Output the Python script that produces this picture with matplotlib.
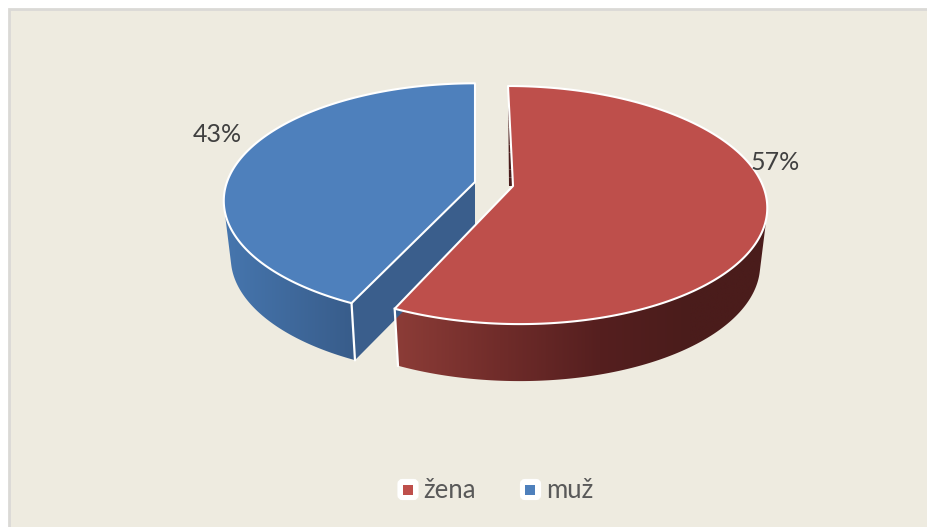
import numpy as np
import matplotlib
matplotlib.use("Agg")
import matplotlib.pyplot as plt
from matplotlib.patches import Polygon, Rectangle, FancyBboxPatch
from matplotlib.colors import to_rgb, LinearSegmentedColormap

# --- data ---
categories = ["žena", "muž"]
values = [57, 43]
labels = ["57%", "43%"]

# --- style / geometry ---
plt.rcParams["font.family"] = ["Lato", "DejaVu Sans"]
BG = "#EEEBE0"
TOP = {"žena": "#BE4F4B", "muž": "#4E80BC"}
CUT = {"žena": "#4A1C1B", "muž": "#3A5E8C"}
XSTOPS = {"žena": [396, 500, 600, 690, 770], "muž": [225, 355]}
CSTOPS = {"žena": ["#8C3C37", "#702C2A", "#551F1F", "#4A1C1B", "#4A1C1B"],
          "muž": ["#4676AE", "#385C8A"]}
APEX = {"žena": (513.0, 186.0), "muž": (475.0, 182.0)}
BX = {"žena": 250.0, "muž": 248.0}
AYS = {"žena": 116.0, "muž": 114.5}
SHEAR = {"žena": -5.8, "muž": 0.0}
K = 0.16
DEPTH, TAPER = 57.0, 0.972


def project(name, theta, bottom=False):
    x, y = np.sin(theta), np.cos(theta)
    w = 1.0 / (1.0 + K * y)
    ax0, ay0 = APEX[name]
    sx = (BX[name] * x + SHEAR[name] * y) * w
    sy = -AYS[name] * y * w
    if bottom:
        return ax0 + sx * TAPER, ay0 + sy + DEPTH
    return ax0 + sx, ay0 + sy


def hull(points):
    pts = sorted(set(map(tuple, points)))
    def half(seq):
        out = []
        for p in seq:
            while len(out) > 1 and ((out[-1][0] - out[-2][0]) * (p[1] - out[-2][1])
                                    - (out[-1][1] - out[-2][1]) * (p[0] - out[-2][0])) <= 0:
                out.pop()
            out.append(p)
        return out[:-1]
    return half(pts) + half(pts[::-1])


fig = plt.figure(figsize=(9.27, 5.27), dpi=100, facecolor="white")
ax = fig.add_axes([0, 0, 1, 1])
ax.set_xlim(0, 927)
ax.set_ylim(527, 0)
ax.axis("off")

ax.add_patch(Rectangle((9, 9), 930, 530, fc=BG, ec="#DAD9D6", lw=2, zorder=0))

fractions = np.array(values, float) / sum(values)
edges = np.concatenate([[0], np.cumsum(fractions)]) * 2 * np.pi
spans = {n: (edges[i], edges[i + 1]) for i, n in enumerate(categories)}

for name in ["muž", "žena"]:
    t0, t1 = spans[name]
    thetas = np.linspace(t0, t1, 400)
    tx, ty = project(name, thetas)
    bx, by = project(name, thetas, bottom=True)
    apex = np.array(APEX[name])

    # outer wall: gradient image clipped to the outline of the visible wall
    vis = np.cos(thetas) < 0.2
    outline = hull(np.r_[np.c_[tx[vis], ty[vis]], np.c_[bx[vis], by[vis]]])
    clip = Polygon(outline, closed=True, transform=ax.transData, fc="none", ec="none")
    ax.add_patch(clip)
    xs = XSTOPS[name]
    span = xs[-1] - xs[0]
    cmap = LinearSegmentedColormap.from_list(
        "wall", [((x - xs[0]) / span, c) for x, c in zip(xs, CSTOPS[name])])
    im = ax.imshow(np.linspace(0, 1, 256)[None, :], cmap=cmap, aspect="auto",
                   extent=(xs[0], xs[-1], 400, 100), zorder=2, interpolation="bilinear")
    im.set_clip_path(clip)

    if name == "muž":
        # cut face toward the gap
        ex, ey = tx[0], ty[0]
        fx, fy = bx[0], by[0]
        cut = [tuple(apex), (apex[0], apex[1] + DEPTH), (fx, fy), (ex, ey)]
        ax.add_patch(Polygon(cut, closed=True, fc=CUT[name], ec="none", zorder=3))
        ax.plot([ex, fx], [ey, fy], color="white", lw=1.6, zorder=4)
    else:
        # narrow dark sliver of the cut face next to the starting edge
        n = 12
        for j in range(n):
            a, b = j / n, (j + 1) / n
            p = lambda s, off: (tx[0] + (apex[0] - tx[0]) * s - off * s, ty[0] + (apex[1] - ty[0]) * s)
            mix = min(1, b * 3.5)
            shade = np.array(to_rgb(BG)) * (1 - mix) + np.array(to_rgb(CUT[name])) * mix
            ax.add_patch(Polygon([p(a, 0), p(b, 0), p(b, 4), p(a, 4)], closed=True,
                                 fc=shade, ec="none", zorder=3))
        ax.plot([tx[-1], bx[-1]], [ty[-1], by[-1]], color="white", lw=1.6, zorder=4)

    # top face
    px = np.concatenate([[apex[0]], tx])
    py = np.concatenate([[apex[1]], ty])
    ax.add_patch(Polygon(np.c_[px, py], closed=True, fc=TOP[name], ec="white", lw=1.5,
                         joinstyle="round", zorder=5))

ax.set_xlim(0, 927)
ax.set_ylim(527, 0)

# data labels
ax.text(751, 163, labels[0], fontsize=18, color="#404040", va="center", ha="left", zorder=6)
ax.text(193, 135, labels[1], fontsize=18, color="#404040", va="center", ha="left", zorder=6)

# legend
for name, x0, tx0 in zip(categories, [397.5, 520.0], [423, 546]):
    ax.add_patch(FancyBboxPatch((x0 + 2, 481), 17, 17, boxstyle="round,pad=0,rounding_size=3",
                                mutation_aspect=1, fc="white", ec="white", lw=3, zorder=6))
    ax.add_patch(Rectangle((x0 + 5.5, 485), 10, 10, fc=TOP[name], ec="none", zorder=7))
    ax.text(tx0, 498, name, fontsize=18.5, color="#595959", va="baseline", ha="left", zorder=7)

fig.savefig("out.png", dpi=100, facecolor="white")
